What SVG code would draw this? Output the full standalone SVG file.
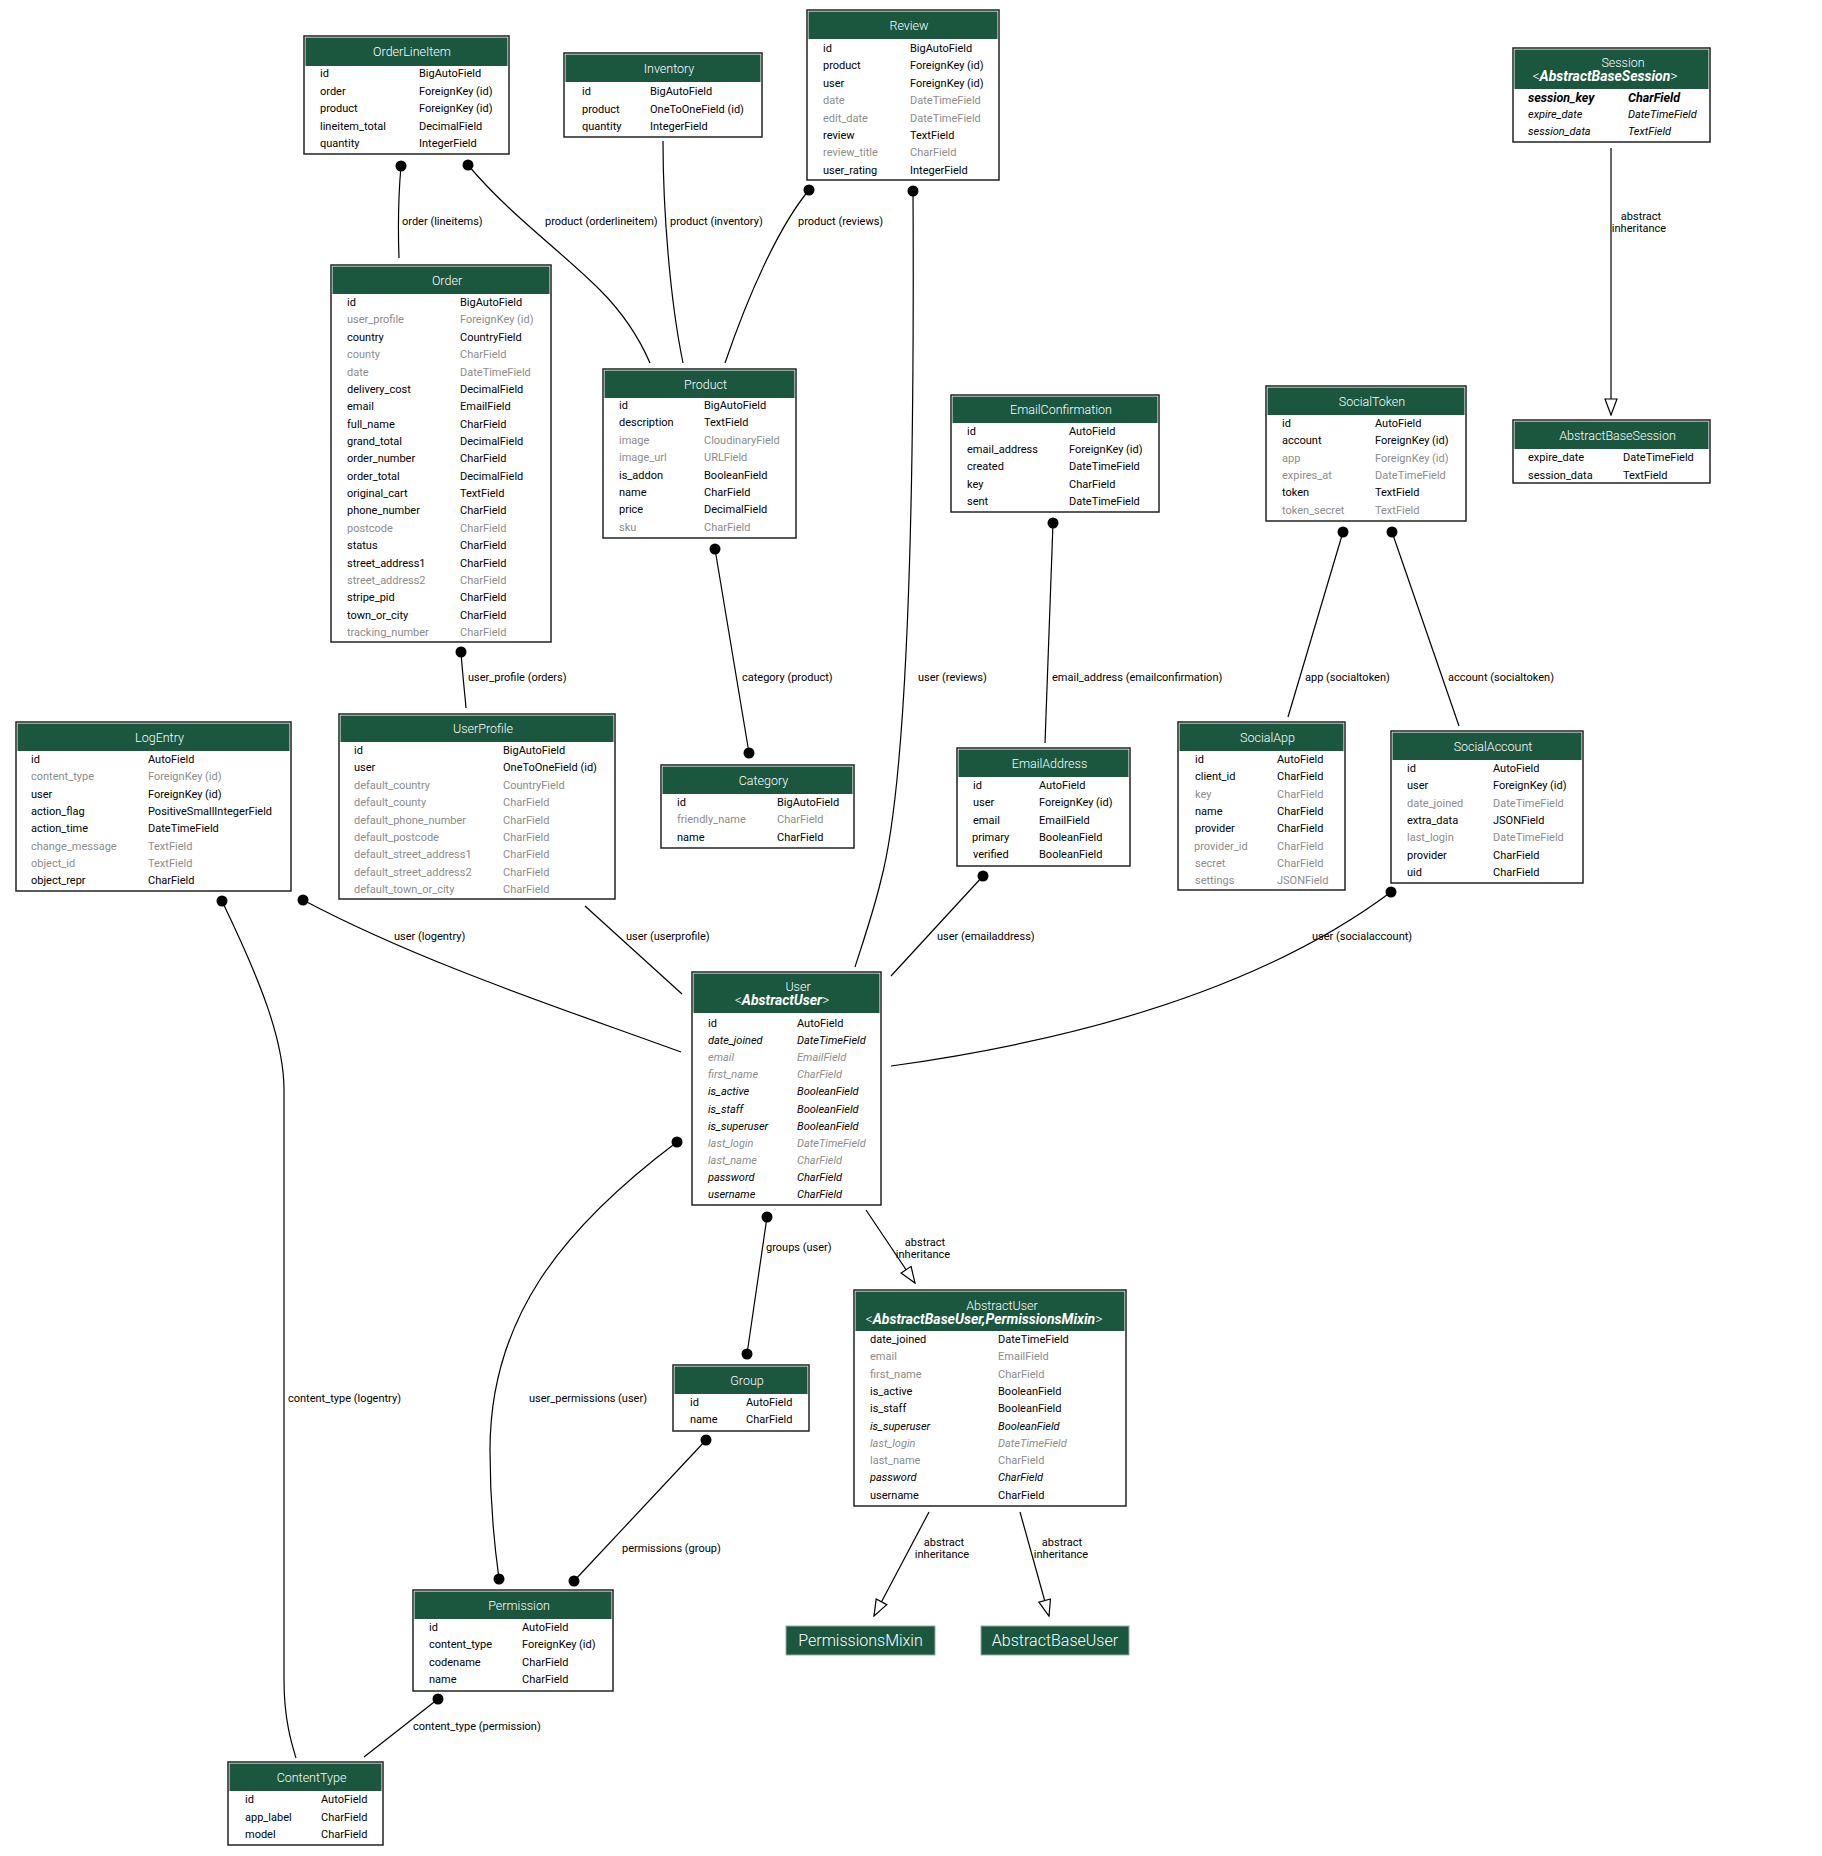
<svg xmlns="http://www.w3.org/2000/svg" width="1822" height="1856" viewBox="0 0 1822 1856">
<style>
text{font-family:Roboto,"Liberation Sans",sans-serif;font-size:11px;fill:#000}
.box{fill:#fff;stroke:#222;stroke-width:1.5}
.hdr{fill:#1b563f}
.t{font-size:12.5px;fill:#fff;text-anchor:middle;font-weight:300}
.g{fill:#8c8c8c}
.i{font-style:italic}
.b{font-weight:bold}
.s{font-size:14px}
.bk{font-size:12.5px}
.e{fill:none;stroke:#000;stroke-width:1.2}
.d{fill:#000}
.l{text-anchor:middle}
.pm{fill:#1b563f;stroke:#9aa;stroke-width:1}
.pt{font-size:16px;fill:#fff;text-anchor:middle;font-weight:300}
</style>
<defs>
<marker id="tri" viewBox="-1 -1 18 14" markerWidth="18" markerHeight="14" refX="16" refY="6" orient="auto" markerUnits="userSpaceOnUse">
<path d="M0,0 L16,6 L0,12 Z" fill="#fff" stroke="#000" stroke-width="1.2"/>
</marker>
</defs>
<rect width="1822" height="1856" fill="#fff"/>

<g id="connectors">
<path class="e" d="M401,166 C398,200 398,230 399,258"/>
<circle class="d" cx="401" cy="166" r="5.5"/>
<text x="402" y="225">order (lineitems)</text>
<path class="e" d="M468,165 C510,215 560,250 600,290 C625,315 640,340 650,363"/>
<circle class="d" cx="468" cy="165" r="5.5"/>
<text x="545" y="225">product (orderlineitem)</text>
<path class="e" d="M663,141 C663,210 670,300 683,363"/>
<text x="670" y="225">product (inventory)</text>
<path class="e" d="M809,190 C780,225 750,290 725,363"/>
<circle class="d" cx="809" cy="190" r="5.5"/>
<text x="798" y="225">product (reviews)</text>
<path class="e" d="M913,191 C915,560 905,790 881,880 C874,910 862,945 855,967"/>
<circle class="d" cx="913" cy="191" r="5.5"/>
<text x="918" y="681">user (reviews)</text>
<path class="e" d="M461,652 C463,680 465,695 466,708"/>
<circle class="d" cx="461" cy="652" r="5.5"/>
<text x="468" y="681">user_profile (orders)</text>
<path class="e" d="M715,549 L749,753"/>
<circle class="d" cx="715" cy="549" r="5.5"/>
<circle class="d" cx="749" cy="753" r="5.5"/>
<text x="742" y="681">category (product)</text>
<path class="e" d="M1053,523 L1045,743"/>
<circle class="d" cx="1053" cy="523" r="5.5"/>
<text x="1052" y="681">email_address (emailconfirmation)</text>
<path class="e" d="M1343,532 L1288,717"/>
<circle class="d" cx="1343" cy="532" r="5.5"/>
<text x="1305" y="681">app (socialtoken)</text>
<path class="e" d="M1392,532 L1459,726"/>
<circle class="d" cx="1392" cy="532" r="5.5"/>
<text x="1448" y="681">account (socialtoken)</text>
<path class="e" d="M303,900 C420,962 560,1008 681,1052"/>
<circle class="d" cx="303" cy="900" r="5.5"/>
<text x="394" y="940">user (logentry)</text>
<path class="e" d="M585,906 L682,994"/>
<text x="626" y="940">user (userprofile)</text>
<path class="e" d="M983,876 L891,976"/>
<circle class="d" cx="983" cy="876" r="5.5"/>
<text x="937" y="940">user (emailaddress)</text>
<path class="e" d="M1391,892 C1300,960 1150,1030 891,1066"/>
<circle class="d" cx="1391" cy="892" r="5.5"/>
<text x="1312" y="940">user (socialaccount)</text>
<path class="e" d="M222,901 C260,980 284,1040 284,1090 L284,1680 C284,1720 292,1745 296,1758"/>
<circle class="d" cx="222" cy="901" r="5.5"/>
<text x="288" y="1402">content_type (logentry)</text>
<path class="e" d="M677,1142 C560,1230 490,1320 490,1450 C490,1510 495,1550 499,1579"/>
<circle class="d" cx="677" cy="1142" r="5.5"/>
<circle class="d" cx="499" cy="1579" r="5.5"/>
<text x="529" y="1402">user_permissions (user)</text>
<path class="e" d="M767,1217 L747,1354"/>
<circle class="d" cx="767" cy="1217" r="5.5"/>
<circle class="d" cx="747" cy="1354" r="5.5"/>
<text x="766" y="1251">groups (user)</text>
<path class="e" d="M706,1440 L574,1581"/>
<circle class="d" cx="706" cy="1440" r="5.5"/>
<circle class="d" cx="574" cy="1581" r="5.5"/>
<text x="622" y="1552">permissions (group)</text>
<path class="e" d="M438,1699 L364,1757"/>
<circle class="d" cx="438" cy="1699" r="5.5"/>
<text x="413" y="1730">content_type (permission)</text>
<path class="e" d="M866,1210 L915,1283" marker-end="url(#tri)"/>
<text class="l" x="925" y="1246">abstract</text>
<text class="l" x="923" y="1258">inheritance</text>
<path class="e" d="M929,1512 L874,1616" marker-end="url(#tri)"/>
<text class="l" x="944" y="1546">abstract</text>
<text class="l" x="942" y="1558">inheritance</text>
<path class="e" d="M1020,1512 L1049,1616" marker-end="url(#tri)"/>
<text class="l" x="1062" y="1546">abstract</text>
<text class="l" x="1061" y="1558">inheritance</text>
<path class="e" d="M1611,148 L1611,415" marker-end="url(#tri)"/>
<text class="l" x="1641" y="220">abstract</text>
<text class="l" x="1639" y="232">inheritance</text>
</g>

<g id="OrderLineItem">
<rect class="box" x="304" y="36" width="205" height="118"/>
<rect class="hdr" x="305.5" y="37.5" width="202" height="28.5"/>
<text class="t" x="412" y="56">OrderLineItem</text>
<text x="320" y="77">id</text><text x="419" y="77">BigAutoField</text>
<text x="320" y="94.5">order</text><text x="419" y="94.5">ForeignKey (id)</text>
<text x="320" y="112">product</text><text x="419" y="112">ForeignKey (id)</text>
<text x="320" y="129.5">lineitem_total</text><text x="419" y="129.5">DecimalField</text>
<text x="320" y="147">quantity</text><text x="419" y="147">IntegerField</text>
</g>

<g id="Inventory">
<rect class="box" x="564" y="53" width="198" height="84"/>
<rect class="hdr" x="565.5" y="54.5" width="195" height="27.5"/>
<text class="t" x="669" y="72.5">Inventory</text>
<text x="582" y="95">id</text><text x="650" y="95">BigAutoField</text>
<text x="582" y="112.5">product</text><text x="650" y="112.5">OneToOneField (id)</text>
<text x="582" y="130">quantity</text><text x="650" y="130">IntegerField</text>
</g>

<g id="Review">
<rect class="box" x="807" y="10" width="192" height="170"/>
<rect class="hdr" x="808.5" y="11.5" width="189" height="27.5"/>
<text class="t" x="909" y="29.5">Review</text>
<text x="823" y="52">id</text><text x="910" y="52">BigAutoField</text>
<text x="823" y="69.4">product</text><text x="910" y="69.4">ForeignKey (id)</text>
<text x="823" y="86.8">user</text><text x="910" y="86.8">ForeignKey (id)</text>
<text class="g" x="823" y="104.2">date</text><text class="g" x="910" y="104.2">DateTimeField</text>
<text class="g" x="823" y="121.6">edit_date</text><text class="g" x="910" y="121.6">DateTimeField</text>
<text x="823" y="139">review</text><text x="910" y="139">TextField</text>
<text class="g" x="823" y="156.4">review_title</text><text class="g" x="910" y="156.4">CharField</text>
<text x="823" y="173.8">user_rating</text><text x="910" y="173.8">IntegerField</text>
</g>

<g id="Session">
<rect class="box" x="1513" y="48" width="197" height="94"/>
<rect class="hdr" x="1514.5" y="49.5" width="194" height="39.5"/>
<text class="t" x="1623" y="67">Session</text>
<text class="t s" x="1605" y="81">&lt;<tspan class="b i">AbstractBaseSession</tspan>&gt;</text>
<text class="b i bk" x="1528" y="101.5">session_key</text><text class="b i bk" x="1628" y="101.5">CharField</text>
<text class="i" x="1528" y="118">expire_date</text><text class="i" x="1628" y="118">DateTimeField</text>
<text class="i" x="1528" y="135">session_data</text><text class="i" x="1628" y="135">TextField</text>
</g>

<g id="AbstractBaseSession">
<rect class="box" x="1513" y="420" width="197" height="63"/>
<rect class="hdr" x="1514.5" y="421.5" width="194" height="27.5"/>
<text class="t" x="1617.5" y="439.5">AbstractBaseSession</text>
<text x="1528" y="461">expire_date</text><text x="1623" y="461">DateTimeField</text>
<text x="1528" y="479">session_data</text><text x="1623" y="479">TextField</text>
</g>

<g id="Order">
<rect class="box" x="331" y="265" width="220" height="377"/>
<rect class="hdr" x="332.5" y="266.5" width="217" height="27.5"/>
<text class="t" x="447" y="284.5">Order</text>
<text x="347" y="306">id</text><text x="460" y="306">BigAutoField</text>
<text class="g" x="347" y="323.4">user_profile</text><text class="g" x="460" y="323.4">ForeignKey (id)</text>
<text x="347" y="340.7">country</text><text x="460" y="340.7">CountryField</text>
<text class="g" x="347" y="358.1">county</text><text class="g" x="460" y="358.1">CharField</text>
<text class="g" x="347" y="375.5">date</text><text class="g" x="460" y="375.5">DateTimeField</text>
<text x="347" y="392.9">delivery_cost</text><text x="460" y="392.9">DecimalField</text>
<text x="347" y="410.2">email</text><text x="460" y="410.2">EmailField</text>
<text x="347" y="427.6">full_name</text><text x="460" y="427.6">CharField</text>
<text x="347" y="445">grand_total</text><text x="460" y="445">DecimalField</text>
<text x="347" y="462.3">order_number</text><text x="460" y="462.3">CharField</text>
<text x="347" y="479.7">order_total</text><text x="460" y="479.7">DecimalField</text>
<text x="347" y="497.1">original_cart</text><text x="460" y="497.1">TextField</text>
<text x="347" y="514.4">phone_number</text><text x="460" y="514.4">CharField</text>
<text class="g" x="347" y="531.8">postcode</text><text class="g" x="460" y="531.8">CharField</text>
<text x="347" y="549.2">status</text><text x="460" y="549.2">CharField</text>
<text x="347" y="566.6">street_address1</text><text x="460" y="566.6">CharField</text>
<text class="g" x="347" y="583.9">street_address2</text><text class="g" x="460" y="583.9">CharField</text>
<text x="347" y="601.3">stripe_pid</text><text x="460" y="601.3">CharField</text>
<text x="347" y="618.7">town_or_city</text><text x="460" y="618.7">CharField</text>
<text class="g" x="347" y="636">tracking_number</text><text class="g" x="460" y="636">CharField</text>
</g>

<g id="Product">
<rect class="box" x="603" y="369" width="193" height="169"/>
<rect class="hdr" x="604.5" y="370.5" width="190" height="27.5"/>
<text class="t" x="705.5" y="388.5">Product</text>
<text x="619" y="409">id</text><text x="704" y="409">BigAutoField</text>
<text x="619" y="426.4">description</text><text x="704" y="426.4">TextField</text>
<text class="g" x="619" y="443.8">image</text><text class="g" x="704" y="443.8">CloudinaryField</text>
<text class="g" x="619" y="461.2">image_url</text><text class="g" x="704" y="461.2">URLField</text>
<text x="619" y="478.6">is_addon</text><text x="704" y="478.6">BooleanField</text>
<text x="619" y="496">name</text><text x="704" y="496">CharField</text>
<text x="619" y="513.4">price</text><text x="704" y="513.4">DecimalField</text>
<text class="g" x="619" y="530.8">sku</text><text class="g" x="704" y="530.8">CharField</text>
</g>

<g id="Category">
<rect class="box" x="661" y="765" width="193" height="83"/>
<rect class="hdr" x="662.5" y="766.5" width="190" height="27.5"/>
<text class="t" x="763.5" y="784.5">Category</text>
<text x="677" y="806">id</text><text x="777" y="806">BigAutoField</text>
<text class="g" x="677" y="823.4">friendly_name</text><text class="g" x="777" y="823.4">CharField</text>
<text x="677" y="840.8">name</text><text x="777" y="840.8">CharField</text>
</g>

<g id="EmailConfirmation">
<rect class="box" x="951" y="395" width="208" height="117"/>
<rect class="hdr" x="952.5" y="396.5" width="205" height="26.5"/>
<text class="t" x="1061" y="414">EmailConfirmation</text>
<text x="967" y="435">id</text><text x="1069" y="435">AutoField</text>
<text x="967" y="452.5">email_address</text><text x="1069" y="452.5">ForeignKey (id)</text>
<text x="967" y="470">created</text><text x="1069" y="470">DateTimeField</text>
<text x="967" y="487.5">key</text><text x="1069" y="487.5">CharField</text>
<text x="967" y="505">sent</text><text x="1069" y="505">DateTimeField</text>
</g>

<g id="EmailAddress">
<rect class="box" x="957" y="748" width="173" height="118"/>
<rect class="hdr" x="958.5" y="749.5" width="170" height="27.5"/>
<text class="t" x="1049.5" y="767.5">EmailAddress</text>
<text x="973" y="789">id</text><text x="1039" y="789">AutoField</text>
<text x="973" y="806.3">user</text><text x="1039" y="806.3">ForeignKey (id)</text>
<text x="973" y="823.6">email</text><text x="1039" y="823.6">EmailField</text>
<text x="972" y="840.9">primary</text><text x="1039" y="840.9">BooleanField</text>
<text x="973" y="858.2">verified</text><text x="1039" y="858.2">BooleanField</text>
</g>

<g id="SocialToken">
<rect class="box" x="1266" y="386" width="200" height="135"/>
<rect class="hdr" x="1267.5" y="387.5" width="197" height="27.5"/>
<text class="t" x="1372" y="405.5">SocialToken</text>
<text x="1282" y="427">id</text><text x="1375" y="427">AutoField</text>
<text x="1282" y="444.3">account</text><text x="1375" y="444.3">ForeignKey (id)</text>
<text class="g" x="1282" y="461.6">app</text><text class="g" x="1375" y="461.6">ForeignKey (id)</text>
<text class="g" x="1282" y="478.9">expires_at</text><text class="g" x="1375" y="478.9">DateTimeField</text>
<text x="1282" y="496.2">token</text><text x="1375" y="496.2">TextField</text>
<text class="g" x="1282" y="513.5">token_secret</text><text class="g" x="1375" y="513.5">TextField</text>
</g>

<g id="SocialApp">
<rect class="box" x="1178" y="722" width="167" height="168"/>
<rect class="hdr" x="1179.5" y="723.5" width="164" height="27.5"/>
<text class="t" x="1267.5" y="741.5">SocialApp</text>
<text x="1195" y="763">id</text><text x="1277" y="763">AutoField</text>
<text x="1195" y="780.3">client_id</text><text x="1277" y="780.3">CharField</text>
<text class="g" x="1195" y="797.6">key</text><text class="g" x="1277" y="797.6">CharField</text>
<text x="1195" y="814.9">name</text><text x="1277" y="814.9">CharField</text>
<text x="1195" y="832.2">provider</text><text x="1277" y="832.2">CharField</text>
<text class="g" x="1194" y="849.5">provider_id</text><text class="g" x="1277" y="849.5">CharField</text>
<text class="g" x="1195" y="866.8">secret</text><text class="g" x="1277" y="866.8">CharField</text>
<text class="g" x="1195" y="884.1">settings</text><text class="g" x="1277" y="884.1">JSONField</text>
</g>

<g id="SocialAccount">
<rect class="box" x="1391" y="731" width="192" height="152"/>
<rect class="hdr" x="1392.5" y="732.5" width="189" height="27.5"/>
<text class="t" x="1493" y="750.5">SocialAccount</text>
<text x="1407" y="772">id</text><text x="1493" y="772">AutoField</text>
<text x="1407" y="789.3">user</text><text x="1493" y="789.3">ForeignKey (id)</text>
<text class="g" x="1407" y="806.6">date_joined</text><text class="g" x="1493" y="806.6">DateTimeField</text>
<text x="1407" y="823.9">extra_data</text><text x="1493" y="823.9">JSONField</text>
<text class="g" x="1407" y="841.2">last_login</text><text class="g" x="1493" y="841.2">DateTimeField</text>
<text x="1407" y="858.5">provider</text><text x="1493" y="858.5">CharField</text>
<text x="1407" y="875.8">uid</text><text x="1493" y="875.8">CharField</text>
</g>

<g id="LogEntry">
<rect class="box" x="16" y="722" width="275" height="169"/>
<rect class="hdr" x="17.5" y="723.5" width="272" height="27.5"/>
<text class="t" x="159.5" y="741.5">LogEntry</text>
<text x="31" y="763">id</text><text x="148" y="763">AutoField</text>
<text class="g" x="31" y="780.3">content_type</text><text class="g" x="148" y="780.3">ForeignKey (id)</text>
<text x="31" y="797.6">user</text><text x="148" y="797.6">ForeignKey (id)</text>
<text x="31" y="814.9">action_flag</text><text x="148" y="814.9">PositiveSmallIntegerField</text>
<text x="31" y="832.2">action_time</text><text x="148" y="832.2">DateTimeField</text>
<text class="g" x="31" y="849.5">change_message</text><text class="g" x="148" y="849.5">TextField</text>
<text class="g" x="31" y="866.8">object_id</text><text class="g" x="148" y="866.8">TextField</text>
<text x="31" y="884.1">object_repr</text><text x="148" y="884.1">CharField</text>
</g>

<g id="UserProfile">
<rect class="box" x="339" y="714" width="276" height="185"/>
<rect class="hdr" x="340.5" y="715.5" width="273" height="26.5"/>
<text class="t" x="483" y="733">UserProfile</text>
<text x="354" y="754">id</text><text x="503" y="754">BigAutoField</text>
<text x="354" y="771.4">user</text><text x="503" y="771.4">OneToOneField (id)</text>
<text class="g" x="354" y="788.8">default_country</text><text class="g" x="503" y="788.8">CountryField</text>
<text class="g" x="354" y="806.2">default_county</text><text class="g" x="503" y="806.2">CharField</text>
<text class="g" x="354" y="823.6">default_phone_number</text><text class="g" x="503" y="823.6">CharField</text>
<text class="g" x="354" y="841">default_postcode</text><text class="g" x="503" y="841">CharField</text>
<text class="g" x="354" y="858.4">default_street_address1</text><text class="g" x="503" y="858.4">CharField</text>
<text class="g" x="354" y="875.8">default_street_address2</text><text class="g" x="503" y="875.8">CharField</text>
<text class="g" x="354" y="893.2">default_town_or_city</text><text class="g" x="503" y="893.2">CharField</text>
</g>

<g id="User">
<rect class="box" x="692" y="972" width="189" height="233"/>
<rect class="hdr" x="693.5" y="973.5" width="186" height="39.5"/>
<text class="t" x="798" y="991">User</text>
<text class="t s" x="782" y="1005">&lt;<tspan class="b i">AbstractUser</tspan>&gt;</text>
<text x="708" y="1027">id</text><text x="797" y="1027">AutoField</text>
<text class="i" x="708" y="1044.1">date_joined</text><text class="i" x="797" y="1044.1">DateTimeField</text>
<text class="i g" x="708" y="1061.2">email</text><text class="i g" x="797" y="1061.2">EmailField</text>
<text class="i g" x="708" y="1078.3">first_name</text><text class="i g" x="797" y="1078.3">CharField</text>
<text class="i" x="708" y="1095.4">is_active</text><text class="i" x="797" y="1095.4">BooleanField</text>
<text class="i" x="708" y="1112.5">is_staff</text><text class="i" x="797" y="1112.5">BooleanField</text>
<text class="i" x="708" y="1129.6">is_superuser</text><text class="i" x="797" y="1129.6">BooleanField</text>
<text class="i g" x="708" y="1146.7">last_login</text><text class="i g" x="797" y="1146.7">DateTimeField</text>
<text class="i g" x="708" y="1163.8">last_name</text><text class="i g" x="797" y="1163.8">CharField</text>
<text class="i" x="708" y="1180.9">password</text><text class="i" x="797" y="1180.9">CharField</text>
<text class="i" x="708" y="1198">username</text><text class="i" x="797" y="1198">CharField</text>
</g>

<g id="AbstractUser">
<rect class="box" x="854" y="1290" width="272" height="216"/>
<rect class="hdr" x="855.5" y="1291.5" width="269" height="39.5"/>
<text class="t" x="1002" y="1309.5">AbstractUser</text>
<text class="t s" x="984" y="1324">&lt;<tspan class="b i">AbstractBaseUser,PermissionsMixin</tspan>&gt;</text>
<text x="870" y="1343">date_joined</text><text x="998" y="1343">DateTimeField</text>
<text class="g" x="870" y="1360.3">email</text><text class="g" x="998" y="1360.3">EmailField</text>
<text class="g" x="870" y="1377.6">first_name</text><text class="g" x="998" y="1377.6">CharField</text>
<text x="870" y="1394.9">is_active</text><text x="998" y="1394.9">BooleanField</text>
<text x="870" y="1412.2">is_staff</text><text x="998" y="1412.2">BooleanField</text>
<text class="i" x="870" y="1429.5">is_superuser</text><text class="i" x="998" y="1429.5">BooleanField</text>
<text class="i g" x="870" y="1446.8">last_login</text><text class="i g" x="998" y="1446.8">DateTimeField</text>
<text class="g" x="870" y="1464.1">last_name</text><text class="g" x="998" y="1464.1">CharField</text>
<text class="i" x="870" y="1481.4">password</text><text class="i" x="998" y="1481.4">CharField</text>
<text x="870" y="1498.7">username</text><text x="998" y="1498.7">CharField</text>
</g>

<g id="PermissionsMixin">
<rect class="pm" x="786" y="1626" width="149" height="29"/>
<text class="pt" x="860.5" y="1646">PermissionsMixin</text>
</g>

<g id="AbstractBaseUser">
<rect class="pm" x="981" y="1626" width="148" height="29"/>
<text class="pt" x="1055" y="1646">AbstractBaseUser</text>
</g>

<g id="Group">
<rect class="box" x="673" y="1365" width="136" height="66"/>
<rect class="hdr" x="674.5" y="1366.5" width="133" height="27.5"/>
<text class="t" x="747" y="1384.5">Group</text>
<text x="690" y="1406">id</text><text x="746" y="1406">AutoField</text>
<text x="690" y="1423">name</text><text x="746" y="1423">CharField</text>
</g>

<g id="Permission">
<rect class="box" x="413" y="1590" width="200" height="101"/>
<rect class="hdr" x="414.5" y="1591.5" width="197" height="27.5"/>
<text class="t" x="519" y="1609.5">Permission</text>
<text x="429" y="1631">id</text><text x="522" y="1631">AutoField</text>
<text x="429" y="1648.4">content_type</text><text x="522" y="1648.4">ForeignKey (id)</text>
<text x="429" y="1665.8">codename</text><text x="522" y="1665.8">CharField</text>
<text x="429" y="1683.2">name</text><text x="522" y="1683.2">CharField</text>
</g>

<g id="ContentType">
<rect class="box" x="228" y="1762" width="155" height="83"/>
<rect class="hdr" x="229.5" y="1763.5" width="152" height="27.5"/>
<text class="t" x="311.5" y="1781.5">ContentType</text>
<text x="245" y="1803">id</text><text x="321" y="1803">AutoField</text>
<text x="245" y="1820.5">app_label</text><text x="321" y="1820.5">CharField</text>
<text x="245" y="1838">model</text><text x="321" y="1838">CharField</text>
</g>
</svg>
